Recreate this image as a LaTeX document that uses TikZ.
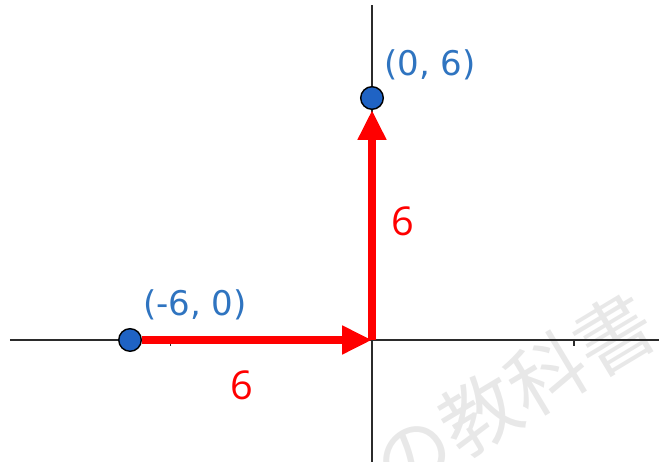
\documentclass[tikz,border=0pt]{standalone}
\usepackage{fontspec}
\setmainfont{DejaVu Sans}
\newfontfamily\redfont{Open Sans}
\newfontfamily\cjk{Noto Sans CJK JP}
\usepackage{xcolor}
\usepackage{tikz}
\usetikzlibrary{calc,arrows.meta,positioning}
\definecolor{axisink}{HTML}{2B2B2B}
\definecolor{ptfill}{HTML}{1F63C4}
\definecolor{ptlabel}{HTML}{2F74C0}
\definecolor{stepred}{HTML}{FF0000}
\definecolor{wmark}{HTML}{E8E8E8}

\begin{document}
\begin{tikzpicture}[
    axis/.style={axisink, line width=1.5pt},
    tick/.style={axisink, line width=1.2pt},
    point/.style={circle, fill=ptfill, draw=black, line width=1pt, minimum size=0.56cm, inner sep=0pt},
    ptlab/.style={ptlabel, font=\fontsize{24}{27}\selectfont},
    steplab/.style={stepred, font=\redfont\fontsize{28}{32}\selectfont},
    move/.style={stepred, line width=5.6pt, -{Triangle[length=21pt, width=19pt]}},
  ]
  \useasboundingbox (-9.224,-3.025) rectangle (7.116,8.43);

  % watermark
  \node[wmark, font=\cjk\fontsize{55}{55}\selectfont, rotate=31] (wm) at (3.5,-1.35) {の教科書};

  % axes
  \coordinate (xl) at (-8.98,0);
  \coordinate (xr) at (7.116,0);
  \coordinate (yb) at (0,-3.025);
  \coordinate (yt) at (0,8.31);
  \coordinate (O) at (0,0);
  \draw[axis] (xl) -- (xr);
  \draw[axis] (yb) -- (yt);
  \foreach \t in {-5,5}
    \draw[tick] (\t,0) -- (\t,-0.15);
  \draw[tick] (0,5) -- (-0.15,5);

  % points
  \node[point] (A) at (-6,0) {};
  \node[point] (B) at (0,6) {};
  \node[ptlab] (Alab) at (-4.39,0.87) {(-6, 0)};
  \node[ptlab] (Blab) at (1.44,6.82) {(0, 6)};

  % moves
  \draw[move] (A.east) -- (O);
  \draw[move] (O) -- (B.south);
  \node[steplab] (hlab) at (-3.23,-1.12) {6};
  \node[steplab] (vlab) at (0.756,2.93) {6};
\end{tikzpicture}
\end{document}
